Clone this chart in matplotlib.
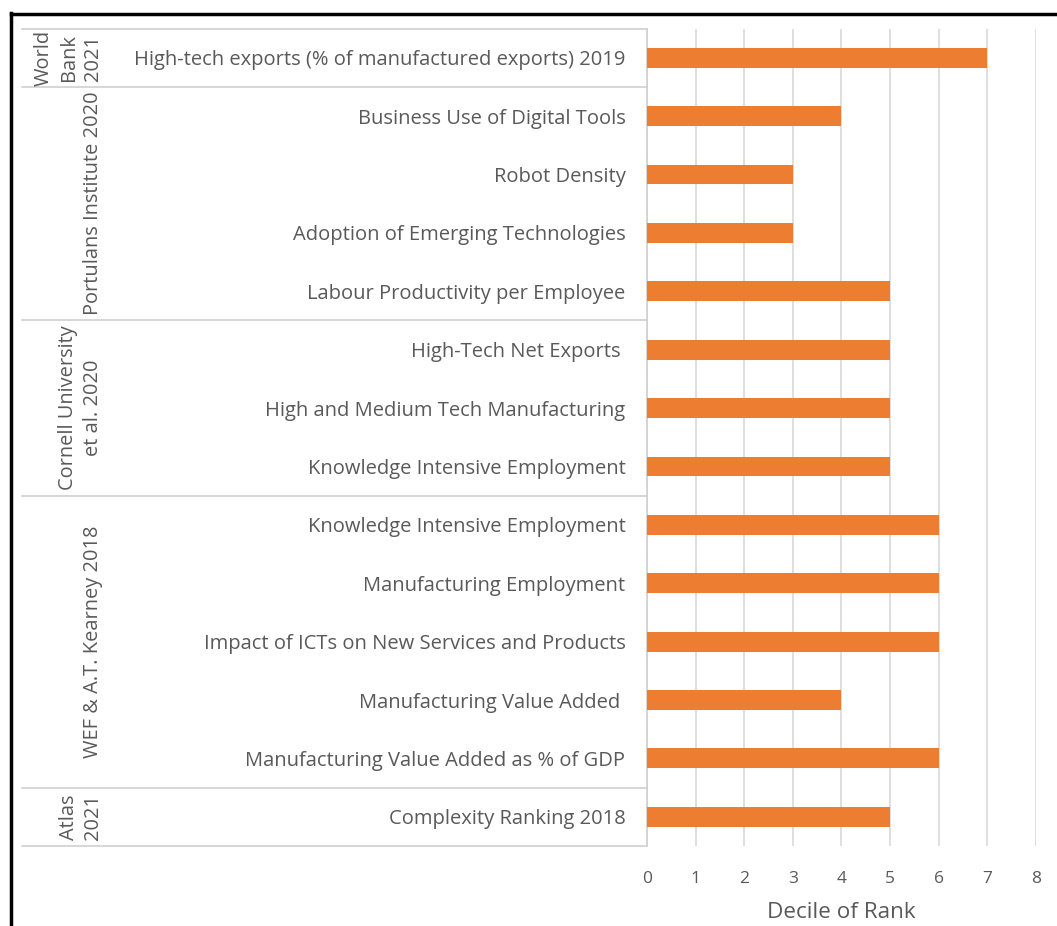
import matplotlib
matplotlib.use("Agg")
import matplotlib.pyplot as plt
from matplotlib.lines import Line2D
from matplotlib.transforms import blended_transform_factory
import numpy as np

# Indicators (top to bottom) and their decile of rank
indicators = [
    "High-tech exports (% of manufactured exports) 2019",
    "Business Use of Digital Tools",
    "Robot Density",
    "Adoption of Emerging Technologies",
    "Labour Productivity per Employee",
    "High-Tech Net Exports ",
    "High and Medium Tech Manufacturing",
    "Knowledge Intensive Employment",
    "Knowledge Intensive Employment",
    "Manufacturing Employment",
    "Impact of ICTs on New Services and Products",
    "Manufacturing Value Added ",
    "Manufacturing Value Added as % of GDP",
    "Complexity Ranking 2018",
]
deciles = [7, 4, 3, 3, 5, 5, 5, 5, 6, 6, 6, 4, 6, 5]

# Source groups and how many indicators each covers
sources = [
    "World\nBank\n2021",
    "Portulans Institute 2020",
    "Cornell University\net al. 2020",
    "WEF & A.T. Kearney 2018",
    "Atlas\n2021",
]
source_sizes = [1, 4, 3, 5, 1]

x_ticks = [0, 1, 2, 3, 4, 5, 6, 7, 8]
x_label = "Decile of Rank"

BAR = "#ED7D31"
TEXT = "#595959"
GRID = "#D9D9D9"
SEP = "#D0D0D0"
FONT = "Open Sans"

W, H = 1057, 926
fig = plt.figure(figsize=(W / 100, H / 100), dpi=100)
fig.patch.set_facecolor("white")

def fx(px):
    return px / W

def fy(py):
    return 1 - py / H

ax = fig.add_axes([fx(647), fy(846), fx(1035.7) - fx(647), fy(28.5) - fy(846)])

n = len(indicators)
ypos = np.arange(n)
ax.barh(ypos, deciles, height=0.34, color=BAR, zorder=3)
ax.set_ylim(n - 0.5, -0.5)
ax.set_xlim(x_ticks[0], x_ticks[-1])

ax.set_xticks(x_ticks)
ax.set_xticklabels([str(t) for t in x_ticks], fontsize=12.5, color=TEXT, family=FONT)
ax.set_yticks(ypos)
ax.set_yticklabels(indicators, fontsize=14.5, color=TEXT, family=FONT)
ax.tick_params(axis="both", length=0)
ax.tick_params(axis="y", pad=15.5)
ax.tick_params(axis="x", pad=18)
ax.xaxis.grid(True, color=GRID, linewidth=1.2, zorder=0)
ax.set_axisbelow(True)
for s in ["top", "right", "bottom"]:
    ax.spines[s].set_visible(False)
ax.spines["left"].set_color(SEP)
ax.spines["left"].set_linewidth(1.2)

ax.set_xlabel(x_label, fontsize=16.2, color=TEXT, family=FONT, labelpad=11)

# Group separators spanning the label columns
trans = blended_transform_factory(fig.transFigure, ax.transData)
bounds = np.concatenate([[0], np.cumsum(source_sizes)]) - 0.5
for b in bounds:
    ax.add_line(Line2D([fx(22), fx(647)], [b, b], transform=trans, color=SEP,
                       linewidth=1.2, clip_on=False))

# Rotated source names
for name, lo, hi in zip(sources, bounds[:-1], bounds[1:]):
    ax.text(fx(103), (lo + hi) / 2, name, transform=trans, rotation=90,
            ha="right", va="center", multialignment="center",
            fontsize=14.4, color=TEXT, family=FONT, linespacing=1.3)

# Outer frame
fig.add_artist(Line2D([fx(11), fx(11)], [fy(13), 0], color="black", linewidth=2.5))
fig.add_artist(Line2D([fx(11), 1], [fy(14), fy(14)], color="black", linewidth=2.5))

fig.savefig("out.png", dpi=100)
